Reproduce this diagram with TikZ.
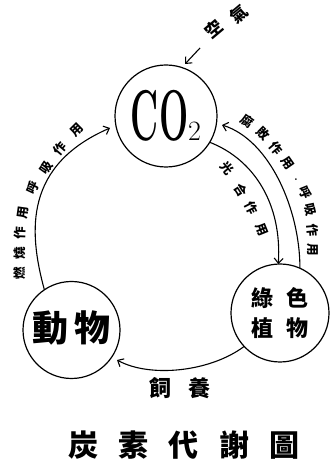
\documentclass[tikz,border=0pt]{standalone}
\usepackage{fontspec}
\usepackage{graphicx}
\newfontfamily\cjk{Noto Sans CJK TC}
\usetikzlibrary{arrows.meta}
\begin{document}
\begin{tikzpicture}[x=1pt,y=1pt,
  ring/.style={draw, circle, line width=1.2pt, inner sep=0pt, outer sep=0pt},
  flow/.style={line width=1.1pt, -{Straight Barb[length=5pt,width=9pt,line width=1.1pt]}},
  arclbl/.style={font=\cjk\bfseries\fontsize{12.5}{12.5}\selectfont, inner sep=0pt},
  airlbl/.style={font=\cjk\bfseries\fontsize{17}{17}\selectfont, rotate=40, inner sep=0pt},
]
\useasboundingbox (0,0) rectangle (333,468);
% circles
\node[ring, minimum size=102pt] (co2) at (166,352)
  {{\fontsize{72}{72}\selectfont\bfseries\scalebox{0.48}[1]{CO}}{\fontsize{28}{28}\selectfont 2}};
\node[ring, minimum size=98pt, align=center, font=\cjk\bfseries\fontsize{22}{30}\selectfont] (plant) at (280,155)
  {綠\hspace{0.6em}色\\植\hspace{0.6em}物};
\node[ring, minimum size=97pt, font=\cjk\bfseries\fontsize{36}{36}\selectfont] (animal) at (71.5,138)
  {\raisebox{7pt}{動\hspace{0.15em}物}};
% free ends
\coordinate (lC) at (110,340);
\coordinate (rC) at (222,343);
\coordinate (aB) at (117,108);
\coordinate (airT) at (200,420);
\coordinate (airH) at (185,404);
% connectors
\draw[flow] (animal.124) .. controls (28,238) and (25,303) .. (lC);
\draw[flow] (plant.66) .. controls (300,258) and (270,328) .. (rC);
\draw[flow] (co2.-31) .. controls (255,308) and (282,263) .. (plant.92);
\draw[flow] (plant.223) .. controls (210,96) and (150,90) .. (aB);
\draw[flow] (airT) -- (airH);
% labels
\node[airlbl] (air1) at (214,439) {空};
\node[airlbl] (air2) at (239,454) {氣};
\foreach \x/\y/\r/\c [count=\i] in {247/347/-35/腐, 263/334/-45/敗, 276/320/-50/作, 288/305/-55/用,
    305/275/-68/呼, 310/258/-78/吸, 313/238/-85/作, 313/218/-90/用}
  \node[arclbl, rotate=\r] (rl\i) at (\x,\y) {\c};
\node[font=\bfseries\fontsize{12}{12}\selectfont, inner sep=0pt] (rdot) at (296,288) {.};
\foreach \x/\y/\r/\c [count=\i] in {227/300/-50/光, 241/278/-57/合, 252/260/-63/作, 262/238/-68/用}
  \node[arclbl, rotate=\r] (il\i) at (\x,\y) {\c};
\foreach \x/\y/\r/\c [count=\i] in {20/195/90/燃, 20/215/90/燒, 20/235/88/作, 23/255/82/用,
    33/280/65/呼, 46/300/55/吸, 60/319/50/作, 77/338/45/用}
  \node[arclbl, rotate=\r] (ll\i) at (\x,\y) {\c};
\node[font=\cjk\bfseries\fontsize{22}{22}\selectfont] (feed) at (180,80) {飼\hspace{0.75em}養};
\node[font=\cjk\bfseries\fontsize{30}{30}\selectfont] (title) at (184,23)
  {炭\hspace{0.68em}素\hspace{0.68em}代\hspace{0.68em}謝\hspace{0.68em}圖};
\end{tikzpicture}
\end{document}
